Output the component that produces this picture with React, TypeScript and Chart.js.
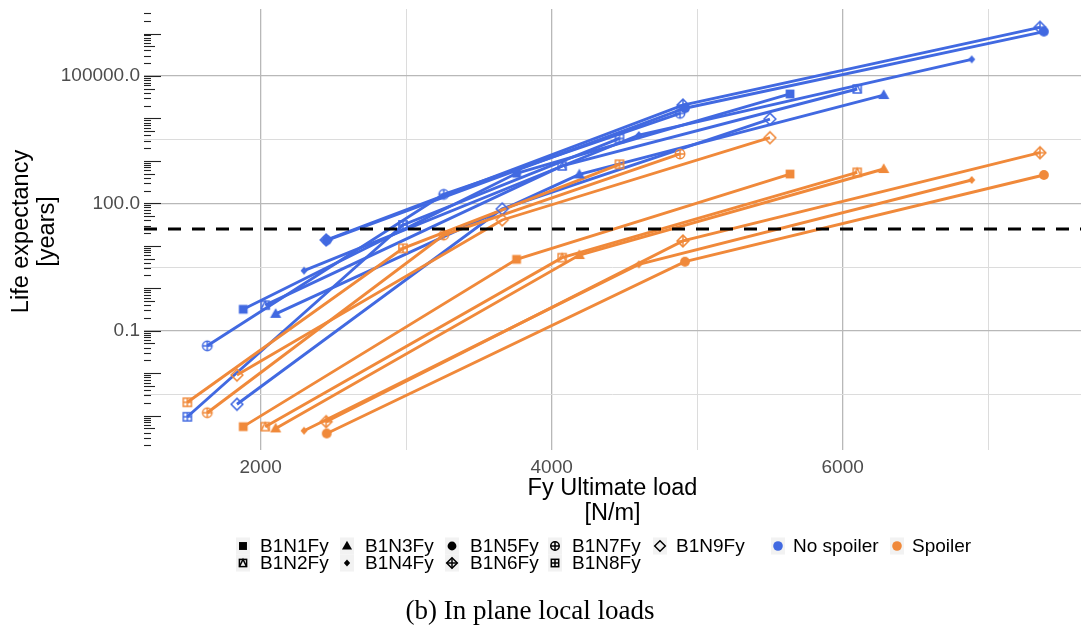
import React, { useEffect, useRef } from 'react';
import { Chart, registerables } from 'chart.js';

Chart.register(...registerables);

// ---------- data ----------
const SERIES_NAMES = ['B1N1Fy', 'B1N2Fy', 'B1N3Fy', 'B1N4Fy', 'B1N5Fy', 'B1N6Fy', 'B1N7Fy', 'B1N8Fy', 'B1N9Fy'];
const SERIES_SHAPES = ['square', 'squareTriangle', 'triangle', 'diamondSmall', 'circle', 'diamondPlus', 'circlePlus', 'squarePlus', 'diamondOpen'];

// Fy ultimate load [N/m] for each series
const LOAD_B1N1Fy = [1880, 3759, 5638];
const LOAD_B1N2Fy = [2031, 4072, 6100];
const LOAD_B1N3Fy = [2103, 4190, 6282];
const LOAD_B1N4Fy = [2298, 4599, 6887];
const LOAD_B1N5Fy = [2454, 4916, 7383];
const LOAD_B1N6Fy = [2450, 4902, 7356];
const LOAD_B1N7Fy = [1633, 3258, 4882];
const LOAD_B1N8Fy = [1496, 2978, 4466];
const LOAD_B1N9Fy = [1837, 3660, 5500];

// Life expectancy [years], no spoiler
const NOSP_B1N1Fy = [0.32, 510, 37700];
const NOSP_B1N2Fy = [0.4, 760, 49400];
const NOSP_B1N3Fy = [0.25, 480, 35600];
const NOSP_B1N4Fy = [2.6, 4070, 247000];
const NOSP_B1N5Fy = [13.5, 17400, 1110000];
const NOSP_B1N6Fy = [13.7, 20700, 1400000];
const NOSP_B1N7Fy = [0.044, 163, 13200];
const NOSP_B1N8Fy = [0.00094, 31, 3390];
const NOSP_B1N9Fy = [0.00185, 74, 9700];

// Life expectancy [years], spoiler
const SP_B1N1Fy = [0.00055, 4.8, 491];
const SP_B1N2Fy = [0.00055, 5.25, 538];
const SP_B1N3Fy = [0.0005, 6.07, 644];
const SP_B1N4Fy = [0.00044, 3.66, 355];
const SP_B1N5Fy = [0.00038, 4.22, 466];
const SP_B1N6Fy = [0.00072, 13.0, 1560];
const SP_B1N7Fy = [0.00117, 17.9, 1455];
const SP_B1N8Fy = [0.00206, 8.7, 832];
const SP_B1N9Fy = [0.009, 40.6, 3520];

const LOADS = [LOAD_B1N1Fy, LOAD_B1N2Fy, LOAD_B1N3Fy, LOAD_B1N4Fy, LOAD_B1N5Fy, LOAD_B1N6Fy, LOAD_B1N7Fy, LOAD_B1N8Fy, LOAD_B1N9Fy];
const NO_SPOILER = [NOSP_B1N1Fy, NOSP_B1N2Fy, NOSP_B1N3Fy, NOSP_B1N4Fy, NOSP_B1N5Fy, NOSP_B1N6Fy, NOSP_B1N7Fy, NOSP_B1N8Fy, NOSP_B1N9Fy];
const SPOILER = [SP_B1N1Fy, SP_B1N2Fy, SP_B1N3Fy, SP_B1N4Fy, SP_B1N5Fy, SP_B1N6Fy, SP_B1N7Fy, SP_B1N8Fy, SP_B1N9Fy];

const THRESHOLD_YEARS = 25;

const X_MAJOR = [2000, 4000, 6000];
const X_MINOR = [3000, 5000, 7000];
const X_TICK_LABELS = ['2000', '4000', '6000'];
const Y_MAJOR = [0.1, 100, 100000];
const Y_MINOR = [Math.pow(10, -2.5), Math.pow(10, 0.5), Math.pow(10, 3.5)];
const Y_TICK_LABELS = ['0.1', '100.0', '100000.0'];

const X_MIN = 1198;
const X_MAX = 7638;
const Y_MIN = Math.pow(10, -3.81);
const Y_MAX = Math.pow(10, 6.578);

// ---------- style ----------
const BLUE = '#4169E1';
const ORANGE = '#F0893A';
const GRID_MAJOR = '#B8B8B8';
const GRID_MINOR = '#DCDCDC';
const SANS = '"Liberation Sans", Arial, Helvetica, sans-serif';
const SERIF = '"Liberation Serif", "Times New Roman", serif';

function drawShape(g: CanvasRenderingContext2D, shape: string, x: number, y: number, color: string, k = 1) {
  g.save();
  g.fillStyle = color;
  g.strokeStyle = color;
  g.lineWidth = 1.5;
  g.lineJoin = 'miter';
  const plus = (r: number) => {
    g.beginPath();
    g.moveTo(x - r, y); g.lineTo(x + r, y);
    g.moveTo(x, y - r); g.lineTo(x, y + r);
    g.stroke();
  };
  switch (shape) {
    case 'square': {
      const s = 4.4 * k;
      g.fillRect(x - s, y - s, 2 * s, 2 * s);
      break;
    }
    case 'squareTriangle': {
      const s = 4.0 * k;
      g.strokeRect(x - s, y - s, 2 * s, 2 * s);
      g.beginPath();
      g.moveTo(x - s, y + s); g.lineTo(x, y - s); g.lineTo(x + s, y + s);
      g.stroke();
      break;
    }
    case 'triangle': {
      const s = k;
      g.beginPath();
      g.moveTo(x, y - 5.8 * s); g.lineTo(x + 5.6 * s, y + 4 * s); g.lineTo(x - 5.6 * s, y + 4 * s);
      g.closePath(); g.fill();
      break;
    }
    case 'diamondSmall': {
      const s = k;
      g.beginPath();
      g.moveTo(x, y - 4 * s); g.lineTo(x + 3.5 * s, y); g.lineTo(x, y + 4 * s); g.lineTo(x - 3.5 * s, y);
      g.closePath(); g.fill();
      break;
    }
    case 'circle':
      g.beginPath(); g.arc(x, y, 4.9 * k, 0, Math.PI * 2); g.fill();
      break;
    case 'diamondPlus': {
      const r = 5.9 * k;
      g.beginPath();
      g.moveTo(x, y - r); g.lineTo(x + r, y); g.lineTo(x, y + r); g.lineTo(x - r, y);
      g.closePath(); g.stroke();
      plus(r);
      break;
    }
    case 'circlePlus': {
      const r = 4.7 * k;
      g.beginPath(); g.arc(x, y, r, 0, Math.PI * 2); g.stroke();
      plus(r);
      break;
    }
    case 'squarePlus': {
      const s = 4.1 * k;
      g.strokeRect(x - s, y - s, 2 * s, 2 * s);
      plus(s);
      break;
    }
    case 'diamondOpen': {
      const r = 5.9 * k;
      g.beginPath();
      g.moveTo(x, y - r); g.lineTo(x + r, y); g.lineTo(x, y + r); g.lineTo(x - r, y);
      g.closePath(); g.stroke();
      break;
    }
  }
  g.restore();
}

function makeMarker(shape: string, color: string): HTMLCanvasElement {
  const cv = document.createElement('canvas');
  cv.width = 18;
  cv.height = 18;
  const g = cv.getContext('2d')!;
  drawShape(g, shape, 9, 9, color);
  return cv;
}

const sameLog = (a: number, b: number) => Math.abs(Math.log10(a) - Math.log10(b)) < 1e-6;

const decorPlugin = {
  id: 'decor',
  beforeDraw(chart: any) {
    const { ctx, width, height } = chart;
    ctx.save();
    ctx.fillStyle = '#ffffff';
    ctx.fillRect(0, 0, width, height);
    ctx.restore();
  },
  beforeDatasetsDraw(chart: any) {
    // log ticks inside the panel on the left
    const { ctx, chartArea } = chart;
    const ys = chart.scales.y;
    ctx.save();
    ctx.strokeStyle = '#222222';
    ctx.lineWidth = 1.1;
    for (let k = -5; k <= 7; k++) {
      for (let m = 1; m <= 9; m++) {
        const v = m * Math.pow(10, k);
        if (v < ys.min || v > ys.max) continue;
        const py = Math.round(ys.getPixelForValue(v)) + 0.5;
        const len = m === 1 ? 17 : m === 5 ? 11 : 7;
        ctx.beginPath();
        ctx.moveTo(chartArea.left, py);
        ctx.lineTo(chartArea.left + len, py);
        ctx.stroke();
      }
    }
    ctx.restore();
  },
  afterDatasetsDraw(chart: any) {
    const { ctx, chartArea } = chart;
    const py = chart.scales.y.getPixelForValue(THRESHOLD_YEARS);
    ctx.save();
    ctx.strokeStyle = '#000000';
    ctx.lineWidth = 3;
    ctx.setLineDash([13, 11]);
    ctx.beginPath();
    ctx.moveTo(chartArea.left, py);
    ctx.lineTo(chartArea.right, py);
    ctx.stroke();
    ctx.restore();
  },
  afterDraw(chart: any) {
    const { ctx, chartArea } = chart;
    ctx.save();
    ctx.fillStyle = '#000000';
    ctx.textBaseline = 'middle';

    // axis titles
    ctx.font = `23.5px ${SANS}`;
    ctx.textAlign = 'center';
    const cx = (chartArea.left + chartArea.right) / 2;
    ctx.fillText('Fy Ultimate load', cx, 489);
    ctx.fillText('[N/m]', cx, 514);

    const cy = (chartArea.top + chartArea.bottom) / 2 + 2;
    ctx.save();
    ctx.translate(22, cy);
    ctx.rotate(-Math.PI / 2);
    ctx.fillText('Life expectancy', 0, 0);
    ctx.fillText('[years]', 0, 25.5);
    ctx.restore();

    // legend: shapes
    ctx.font = `19px ${SANS}`;
    ctx.textAlign = 'left';
    const colMarkerX = [243, 347, 452, 555, 660];
    const colTextX = [260, 365, 470, 572, 676];
    const rowY = [546, 563];
    SERIES_NAMES.forEach((name, i) => {
      const col = Math.floor(i / 2);
      const row = i % 2;
      const mx = colMarkerX[col];
      const my = rowY[row];
      ctx.fillStyle = '#F2F2F2';
      ctx.fillRect(mx - 7, my - 8.5, 14, 17);
      drawShape(ctx, SERIES_SHAPES[i], mx, my, '#000000', 0.9);
      ctx.fillStyle = '#000000';
      ctx.fillText(name, colTextX[col], my + 1);
    });

    // legend: spoiler colour
    const spoilItems = [
      { label: 'No spoiler', color: BLUE, mx: 778, tx: 793 },
      { label: 'Spoiler', color: ORANGE, mx: 897, tx: 912 },
    ];
    spoilItems.forEach((it) => {
      ctx.fillStyle = '#F2F2F2';
      ctx.fillRect(it.mx - 7, rowY[0] - 8.5, 14, 17);
      ctx.fillStyle = it.color;
      ctx.beginPath();
      ctx.arc(it.mx, rowY[0], 4.8, 0, Math.PI * 2);
      ctx.fill();
      ctx.fillStyle = '#000000';
      ctx.fillText(it.label, it.tx, rowY[0] + 1);
    });

    // caption
    ctx.font = `27px ${SERIF}`;
    ctx.textAlign = 'center';
    ctx.fillText('(b) In plane local loads', 530, 612);
    ctx.restore();
  },
};

export default function App() {
  const canvasRef = useRef<HTMLCanvasElement | null>(null);

  useEffect(() => {
    document.body.style.margin = '0';
    const canvas = canvasRef.current;
    if (!canvas) return;

    const datasets: any[] = [];
    // points above all lines (lower order drawn on top)
    SERIES_NAMES.forEach((name, i) => {
      const shape = SERIES_SHAPES[i];
      datasets.push({
        label: name + ' Spoiler pts',
        data: LOADS[i].map((x, j) => ({ x, y: SPOILER[i][j] })),
        showLine: false,
        pointStyle: makeMarker(shape, ORANGE),
        pointRadius: 5,
        order: 0,
      });
      datasets.push({
        label: name + ' No spoiler pts',
        data: LOADS[i].map((x, j) => ({ x, y: NO_SPOILER[i][j] })),
        showLine: false,
        pointStyle: makeMarker(shape, BLUE),
        pointRadius: 5,
        order: 1,
      });
    });
    SERIES_NAMES.forEach((name, i) => {
      datasets.push({
        label: name + ' Spoiler',
        data: LOADS[i].map((x, j) => ({ x, y: SPOILER[i][j] })),
        borderColor: ORANGE,
        borderWidth: 2.9,
        pointRadius: 0,
        tension: 0,
        fill: false,
        order: 2,
      });
      datasets.push({
        label: name + ' No spoiler',
        data: LOADS[i].map((x, j) => ({ x, y: NO_SPOILER[i][j] })),
        borderColor: BLUE,
        borderWidth: 2.9,
        pointRadius: 0,
        tension: 0,
        fill: false,
        order: 3,
      });
    });

    const isMajorX = (v: number) => X_MAJOR.includes(v);
    const isMajorY = (v: number) => Y_MAJOR.some((m) => sameLog(m, v));

    const chart = new Chart(canvas, {
      type: 'line',
      data: { datasets },
      plugins: [decorPlugin],
      options: {
        animation: false,
        responsive: false,
        devicePixelRatio: 1,
        events: [],
        layout: { autoPadding: false, padding: { top: 9, left: 0, right: 0, bottom: 0 } },
        plugins: {
          legend: { display: false },
          tooltip: { enabled: false },
          title: { display: false },
        },
        scales: {
          x: {
            type: 'linear',
            min: X_MIN,
            max: X_MAX,
            afterBuildTicks: (s: any) => {
              s.ticks = [...X_MAJOR, ...X_MINOR].sort((a, b) => a - b).map((v) => ({ value: v }));
            },
            afterFit: (s: any) => {
              s.height = 179;
              s.paddingLeft = 0;
              s.paddingRight = 0;
            },
            border: { display: false },
            grid: {
              drawTicks: false,
              color: (c: any) => (c.tick && isMajorX(c.tick.value) ? GRID_MAJOR : GRID_MINOR),
              lineWidth: (c: any) => (c.tick && isMajorX(c.tick.value) ? 1.3 : 1),
            },
            ticks: {
              autoSkip: false,
              maxRotation: 0,
              includeBounds: false,
              padding: 6,
              color: '#4D4D4D',
              font: { family: SANS, size: 19 },
              callback: (v: any) => {
                const i = X_MAJOR.indexOf(Number(v));
                return i >= 0 ? X_TICK_LABELS[i] : '';
              },
            },
          },
          y: {
            type: 'logarithmic',
            min: Y_MIN,
            max: Y_MAX,
            afterBuildTicks: (s: any) => {
              s.ticks = [...Y_MAJOR, ...Y_MINOR].sort((a, b) => a - b).map((v) => ({ value: v }));
            },
            afterFit: (s: any) => {
              s.width = 144;
              s.paddingTop = 0;
              s.paddingBottom = 0;
            },
            border: { display: false },
            grid: {
              drawTicks: false,
              color: (c: any) => (c.tick && isMajorY(c.tick.value) ? GRID_MAJOR : GRID_MINOR),
              lineWidth: (c: any) => (c.tick && isMajorY(c.tick.value) ? 1.3 : 1),
            },
            ticks: {
              autoSkip: false,
              padding: 4,
              color: '#4D4D4D',
              font: { family: SANS, size: 19 },
              callback: (v: any) => {
                const i = Y_MAJOR.findIndex((m) => sameLog(m, Number(v)));
                return i >= 0 ? Y_TICK_LABELS[i] : '';
              },
            },
          },
        },
      } as any,
    });

    return () => {
      chart.destroy();
    };
  }, []);

  return (
    <div style={{ width: 1081, height: 629 }}>
      <canvas ref={canvasRef} width={1081} height={629} style={{ display: 'block' }} />
    </div>
  );
}
